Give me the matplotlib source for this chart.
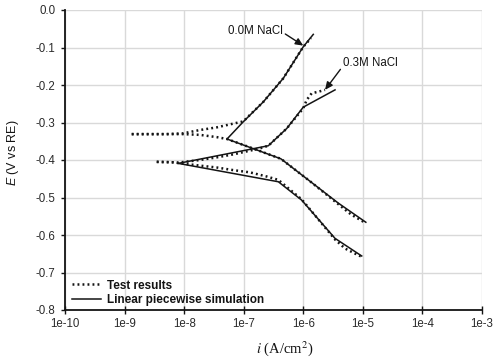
import numpy as np
import matplotlib
matplotlib.use("Agg")
import matplotlib.pyplot as plt
from matplotlib.ticker import FixedLocator, FuncFormatter

plt.rcParams["font.family"] = ["Liberation Sans", "DejaVu Sans"]
plt.rcParams["axes.unicode_minus"] = False
plt.rcParams["mathtext.fontset"] = "custom"
plt.rcParams["mathtext.it"] = "Liberation Sans:italic"
plt.rcParams["mathtext.rm"] = "Liberation Sans"

# ---- linear piecewise simulation (log10 i, E) ----
sim00_an_logi = [-7.28, -7.007, -6.671, -6.335, -6.0, -5.832]
sim00_an_E    = [-0.344, -0.298, -0.245, -0.182, -0.098, -0.065]
sim00_ca_logi = [-7.28, -6.374, -5.412, -4.95]
sim00_ca_E    = [-0.344, -0.397, -0.515, -0.566]

sim03_an_logi = [-8.098, -6.587, -6.278, -6.0, -5.467]
sim03_an_E    = [-0.409, -0.362, -0.316, -0.259, -0.213]
sim03_ca_logi = [-8.098, -6.419, -6.027, -5.467, -5.019]
sim03_ca_E    = [-0.409, -0.458, -0.507, -0.609, -0.656]

# ---- test results (log10 i, E) ----
test00_an_logi = [-8.88, -8.3, -8.02, -7.734, -7.453, -7.175, -7.007, -6.671, -6.335, -6.0, -5.87]
test00_an_E    = [-0.331, -0.331, -0.329, -0.320, -0.313, -0.303, -0.297, -0.245, -0.182, -0.098, -0.075]
test00_ca_logi = [-8.88, -8.3, -8.02, -7.734, -7.453, -7.28, -6.9, -6.374, -5.9, -5.41, -5.2, -5.02, -4.95]
test00_ca_E    = [-0.331, -0.331, -0.331, -0.333, -0.339, -0.344, -0.366, -0.397, -0.455, -0.518, -0.545, -0.562, -0.568]

test03_an_logi = [-8.46, -8.2, -8.098, -7.734, -7.453, -7.175, -6.894, -6.727, -6.587, -6.278, -6.0, -5.943, -5.859, -5.748, -5.635]
test03_an_E    = [-0.405, -0.406, -0.407, -0.400, -0.393, -0.385, -0.375, -0.369, -0.362, -0.316, -0.262, -0.240, -0.222, -0.218, -0.213]
test03_ca_logi = [-8.46, -8.2, -8.098, -7.734, -7.453, -7.175, -6.894, -6.614, -6.419, -6.027, -5.467, -5.3, -5.1, -5.02]
test03_ca_E    = [-0.405, -0.406, -0.408, -0.415, -0.420, -0.427, -0.433, -0.444, -0.453, -0.505, -0.612, -0.636, -0.652, -0.658]

x_ticks = [1e-10, 1e-9, 1e-8, 1e-7, 1e-6, 1e-5, 1e-4, 1e-3]
y_ticks = [0.0, -0.1, -0.2, -0.3, -0.4, -0.5, -0.6, -0.7, -0.8]

W, H = 495, 364
fig = plt.figure(figsize=(W / 100, H / 100), dpi=100)
ax = fig.add_axes([65 / W, 1 - 310 / H, 417 / W, 300 / H])

ink = "#141414"
dot_kw = dict(color=ink, lw=1.8, linestyle=(0, (0.75, 1.25)), dash_capstyle="butt")
sol_kw = dict(color=ink, lw=1.1)

def tp(a):
    return 10.0 ** np.asarray(a)

for lx, ly in [(test00_an_logi, test00_an_E), (test00_ca_logi, test00_ca_E),
               (test03_an_logi, test03_an_E), (test03_ca_logi, test03_ca_E)]:
    ax.plot(tp(lx), ly, **dot_kw)
for lx, ly in [(sim00_an_logi, sim00_an_E), (sim00_ca_logi, sim00_ca_E),
               (sim03_an_logi, sim03_an_E), (sim03_ca_logi, sim03_ca_E)]:
    ax.plot(tp(lx), ly, **sol_kw)

# legend proxies
ax.plot([], [], label="Test results", **dot_kw)
ax.plot([], [], label="Linear piecewise simulation", **sol_kw)

ax.set_xscale("log")
ax.set_xlim(1e-10, 1e-3)
ax.set_ylim(-0.8, 0.0)
ax.xaxis.set_major_locator(FixedLocator(x_ticks))
ax.xaxis.set_minor_locator(FixedLocator([]))
ax.xaxis.set_major_formatter(FuncFormatter(lambda v, p: f"1e{int(round(np.log10(v)))}"))
ax.yaxis.set_major_locator(FixedLocator(y_ticks))
ax.yaxis.set_major_formatter(FuncFormatter(lambda v, p: f"{v:.1f}"))

ax.grid(True, color="#d9d9d9", lw=1.0)
ax.set_axisbelow(True)
for s in ["top", "right"]:
    ax.spines[s].set_visible(False)
for s in ["left", "bottom"]:
    ax.spines[s].set_color(ink)
    ax.spines[s].set_linewidth(1.3)

ax.tick_params(axis="y", direction="out", length=3, width=1, colors=ink, labelsize=8.3, pad=4)
ax.tick_params(axis="x", direction="inout", length=6, width=1, colors=ink, labelsize=8.3, pad=3)
for lab in ax.get_xticklabels() + ax.get_yticklabels():
    lab.set_color("#2a2a2a")

ax.set_ylabel("$\\mathit{E}$ (V vs RE)", fontsize=9, color=ink)
ax.yaxis.set_label_coords(-44 / 417, (310 - 153) / 300)
ax.set_xlabel("$\\mathit{i}$ (A/cm$^2$)", fontsize=10.5, color=ink,
              family="Liberation Serif", math_fontfamily="stix")
ax.xaxis.set_label_coords((285 - 65) / 417, -(339 - 310) / 300)

ax.annotate("0.0M NaCl", xy=(10 ** -6.0, -0.095), xytext=(10 ** -7.27, -0.056),
            fontsize=8.3, color=ink, va="center", ha="left",
            arrowprops=dict(arrowstyle="-|>,head_length=0.55,head_width=0.25",
                            color=ink, lw=1.0, shrinkA=0, shrinkB=0,
                            relpos=(1.0, 0.4)))
ax.annotate("0.3M NaCl", xy=(10 ** -5.635, -0.213), xytext=(10 ** -5.33, -0.142),
            fontsize=8.3, color=ink, va="center", ha="left",
            arrowprops=dict(arrowstyle="-|>,head_length=0.55,head_width=0.25",
                            color=ink, lw=1.0, shrinkA=0, shrinkB=0,
                            relpos=(0.0, 0.3)))

leg = ax.legend(loc="lower left", bbox_to_anchor=(3 / 417, 0.0), frameon=False,
                prop=dict(family="Liberation Sans", weight="bold", size=8.5),
                handlelength=2.5, handletextpad=0.5, labelspacing=0.25,
                borderaxespad=0.1, borderpad=0.2)
for t in leg.get_texts():
    t.set_color(ink)

fig.savefig("out.png", dpi=100)
